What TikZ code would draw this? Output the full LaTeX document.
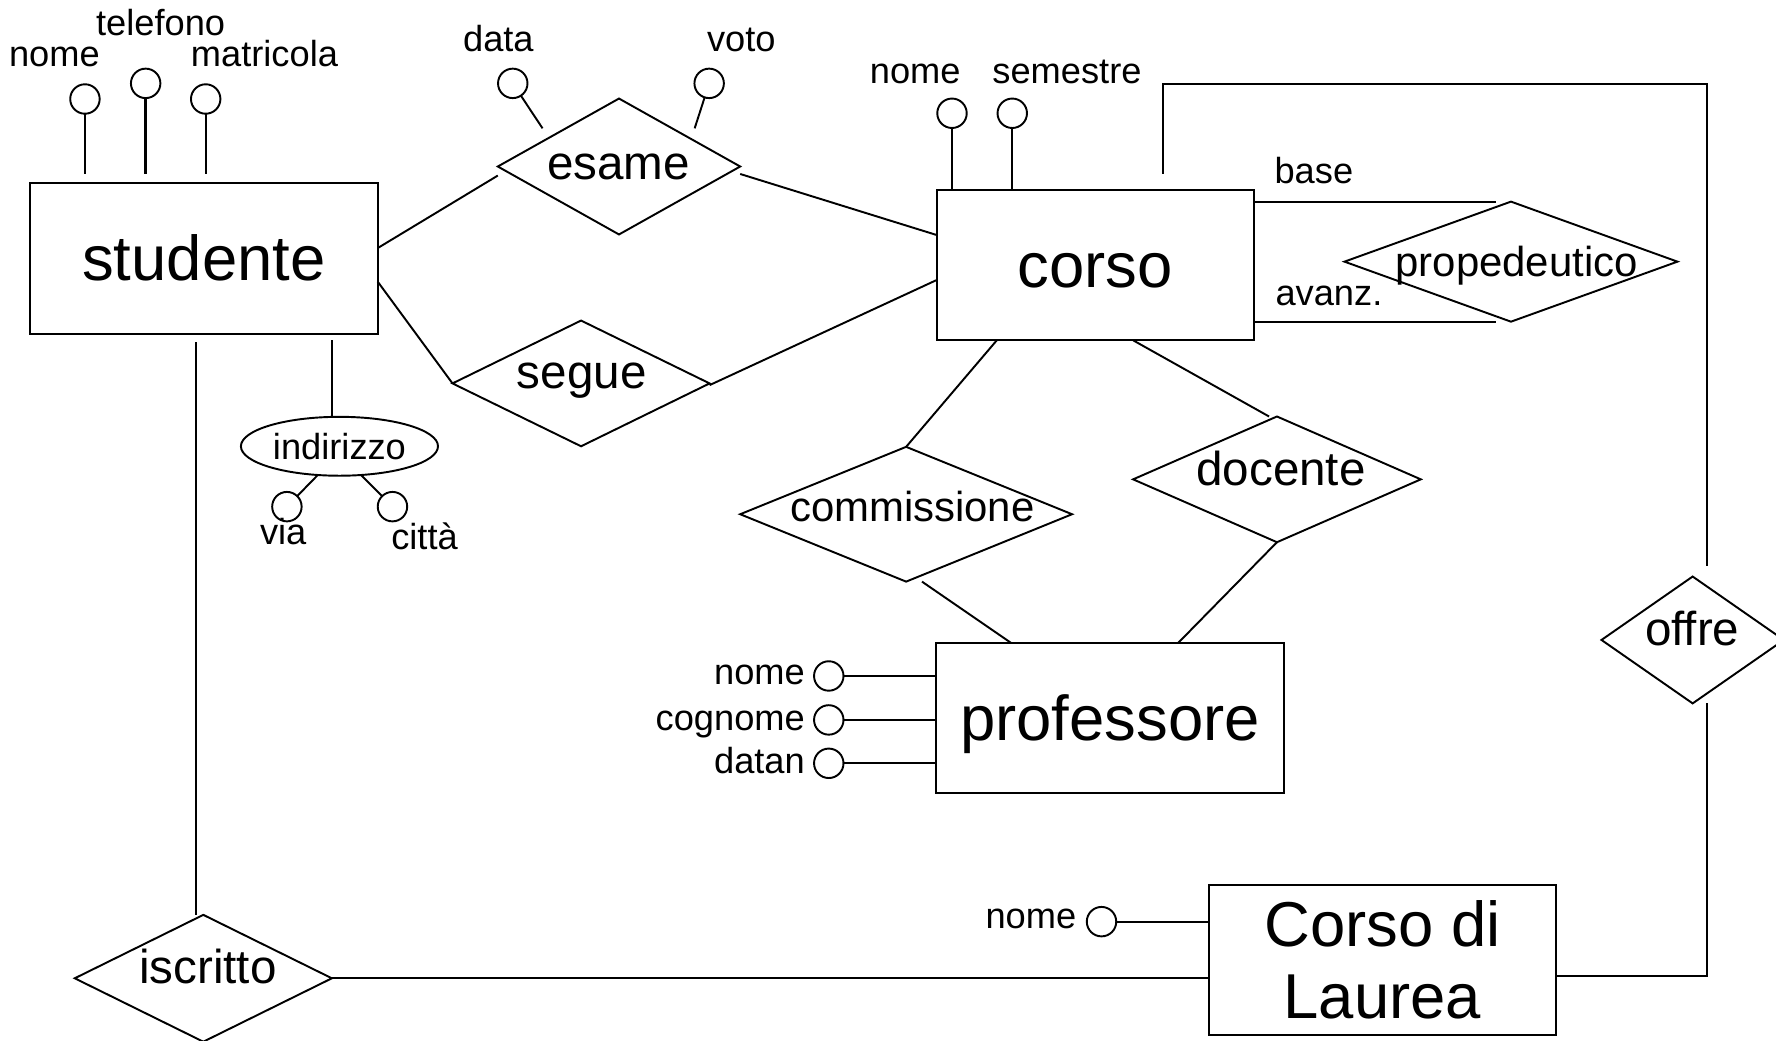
\documentclass[tikz,border=0pt]{standalone}
\usepackage{fontspec}
\setmainfont{Liberation Sans}
\usetikzlibrary{shapes.geometric}
\newcommand{\entfont}{\fontsize{56}{64}\selectfont}
\newcommand{\relfont}{\fontsize{42}{50}\selectfont}
\newcommand{\longrelfont}{\fontsize{37}{44}\selectfont}
\newcommand{\attfont}{\fontsize{32}{38}\selectfont}
\tikzset{
  entity/.style={draw, rectangle, inner sep=0pt, outer sep=0pt, minimum width=307pt, minimum height=133pt, font=\entfont},
  oneline/.style={text height=40pt, text depth=0pt},
  relation/.style={draw, diamond, inner sep=0pt, outer sep=0pt},
  reltext/.style={font=\relfont, inner sep=0pt, anchor=base},
  attribute/.style={draw, circle, inner sep=0pt, outer sep=0pt, minimum size=26pt},
  attrtext/.style={font=\attfont, inner sep=0pt, anchor=base},
}
\begin{document}
\begin{tikzpicture}[x=1pt, y=-1pt, line width=1.7pt]
      \useasboundingbox (0,0) rectangle (1568,919);
      \node[entity, oneline] (studente) at (180,228) {studente};
      \node[entity, oneline, minimum width=280pt] (corso) at (967,234) {corso};
      \node[entity, oneline] (professore) at (980,634) {professore};
      \node[entity, align=center] (cdl) at (1220.5,847.5) {Corso di\\Laurea};
      \node[relation, minimum width=214pt, minimum height=120pt] (esame) at (546.5,147) {};
      \node[relation, minimum width=227pt, minimum height=111pt] (segue) at (513,338.5) {};
      \node[relation, minimum width=293pt, minimum height=119pt] (commissione) at (800,454) {};
      \node[relation, minimum width=254pt, minimum height=111pt] (docente) at (1127.4,423.2) {};
      \node[relation, minimum width=294pt, minimum height=106pt] (propedeutico) at (1334,231) {};
      \node[relation, minimum width=161pt, minimum height=112pt] (offre) at (1494.4,565) {};
      \node[relation, minimum width=227pt, minimum height=112pt] (iscritto) at (179.5,863.7) {};
      \node[reltext] (esameT) at (546,158.3) {esame};
      \node[reltext] (segueT) at (513.6,342.8) {segue};
      \node[reltext, font=\longrelfont] (commissioneT) at (805.5,460.5) {commissione};
      \node[reltext] (docenteT) at (1131,428.2) {docente};
      \node[reltext, font=\longrelfont] (propedeuticoT) at (1339,244.3) {propedeutico};
      \node[reltext] (offreT) at (1494,570.3) {offre};
      \node[reltext] (iscrittoT) at (183.6,868.7) {iscritto};
      \node[draw, ellipse, inner sep=0pt, outer sep=0pt, minimum width=174pt, minimum height=52pt, font=\attfont] (indirizzo) at (299.7,394) {indirizzo};
      \node[attribute] (snome) at (75,87.4) {};
      \node[attribute] (stel) at (128.6,73.6) {};
      \node[attribute] (smat) at (181.6,87.4) {};
      \node[attribute] (edata) at (452.7,73.6) {};
      \node[attribute] (evoto) at (626.1,73.6) {};
      \node[attribute] (cnome) at (840.5,100) {};
      \node[attribute] (csem) at (893.7,100) {};
      \node[attribute] (ivia) at (253.3,447.3) {};
      \node[attribute] (icitta) at (346.5,447.3) {};
      \node[attribute] (pnome) at (731.7,596.8) {};
      \node[attribute] (pcog) at (731.7,635.6) {};
      \node[attribute] (pdatan) at (731.7,673.9) {};
      \node[attribute] (lnome) at (972.5,813.7) {};
      \node[attrtext] (snomeT) at (48,58.3) {nome};
      \node[attrtext] (stelT) at (141.8,30.9) {telefono};
      \node[attrtext] (smatT) at (233.5,58.3) {matricola};
      \node[attrtext] (edataT) at (440,45.6) {data};
      \node[attrtext] (evotoT) at (654.5,45.6) {voto};
      \node[attrtext] (cnomeT) at (808,74) {nome};
      \node[attrtext] (csemT) at (942,74) {semestre};
      \node[attrtext] (baseT) at (1160,162) {base};
      \node[attrtext, anchor=base west] (avanzT) at (1125.3,269.3) {avanz.};
      \node[attrtext] (iviaT) at (250,481) {via};
      \node[attrtext] (icittaT) at (374.8,485) {città};
      \node[attrtext, anchor=base east] (pnomeT) at (711.4,604.7) {nome};
      \node[attrtext, anchor=base east] (pcogT) at (711.4,644.5) {cognome};
      \node[attrtext, anchor=base east] (pdatanT) at (711.4,682.7) {datan};
      \node[attrtext, anchor=base east] (lnomeT) at (951,819.6) {nome};
      \coordinate (offreN) at ([xshift=13pt,yshift=9pt]offre.north);
      \coordinate (offreS) at ([xshift=13pt]offre.south);
      \coordinate (iscrittoN) at ([xshift=-6.7pt]iscritto.north);
      \coordinate (indirizzoN) at ([xshift=-6.7pt]indirizzo.north);
      \begin{scope}[-]
        \draw ([yshift=9pt]studente.east) -- ([yshift=-8pt]esame.west);
        \draw ([yshift=-6.6pt]esame.east) -- ([yshift=26.5pt]corso.west);
        \draw ([yshift=-20.7pt]studente.east) -- (segue.west);
        \draw ([yshift=-1.5pt]segue.east) -- ([yshift=-13.2pt]corso.west);
        \draw[shorten >=6pt] (indirizzoN) -- (indirizzoN |- studente.south);
        \draw[shorten >=7.7pt] (iscrittoN) -- (iscrittoN |- studente.south);
        \draw (iscritto.east) -- (iscritto.east -| cdl.west);
        \draw ([yshift=-14.2pt]cdl.east) -| (offreS);
        \draw ([xshift=60pt,yshift=14pt]corso.north) -- ([xshift=60pt,yshift=93.6pt]corso.north) -| (offreN);
        \draw (corso.east |- propedeutico.north) -- ([xshift=-13.5pt]propedeutico.north);
        \draw (corso.east |- propedeutico.south) -- ([xshift=-13.5pt]propedeutico.south);
        \draw ([xshift=-87pt]corso.south) -- (commissione.north);
        \draw ([xshift=14pt]commissione.south) -- ([xshift=-87.5pt]professore.north);
        \draw ([xshift=33.5pt]corso.south) -- ([xshift=-7pt]docente.north);
        \draw (docente.south) -- ([xshift=60.3pt]professore.north);
        \draw (edata) -- ([xshift=-67.5pt,yshift=33.7pt]esame.center);
        \draw (evoto) -- ([xshift=66.8pt,yshift=33.7pt]esame.center);
        \draw[shorten >=7.7pt] (snome) -- (snome |- studente.north);
        \draw[shorten >=7.7pt, line width=2.4pt] (stel) -- (stel |- studente.north);
        \draw[shorten >=7.7pt] (smat) -- (smat |- studente.north);
        \draw (cnome) -- (cnome |- corso.north);
        \draw (csem) -- (csem |- corso.north);
        \draw (ivia) -- (indirizzo.233);
        \draw (icitta) -- (indirizzo.307);
        \draw (pnome) -- (pnome -| professore.west);
        \draw[line width=2.4pt] (pcog) -- (pcog -| professore.west);
        \draw (pdatan) -- (pdatan -| professore.west);
        \draw (lnome) -- (lnome -| cdl.west);
      \end{scope}
    \end{tikzpicture}
\end{document}
